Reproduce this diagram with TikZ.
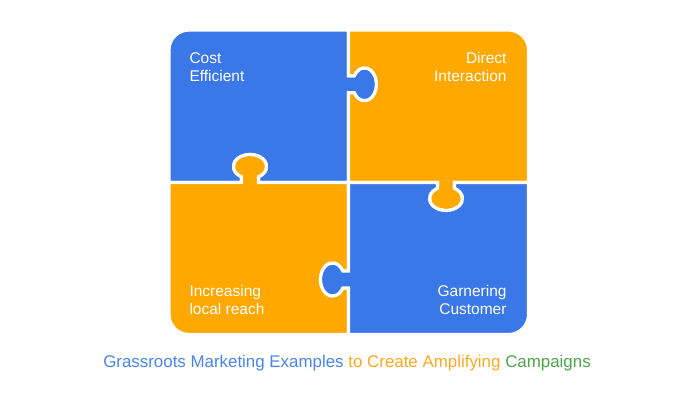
\documentclass[tikz,border=0pt]{standalone}
\usepackage{fontspec}
\setmainfont{Liberation Sans}
\definecolor{pblue}{HTML}{3B78E7}
\definecolor{porange}{HTML}{FFA800}
\definecolor{tblue}{HTML}{4A86E8}
\definecolor{torange}{HTML}{F9A825}
\definecolor{tgreen}{HTML}{4CA64C}
\begin{document}
\begin{tikzpicture}[x=1pt,y=1pt,
  piece/.style={draw=white,line width=3.2pt,line join=miter},
  lbl/.style={text=white,inner sep=0pt,font=\fontsize{15.5}{18.3}\selectfont},
  ttl/.style={inner sep=0pt,font=\fontsize{16.9}{19}\selectfont}]
\useasboundingbox (0,0) rectangle (698,400);
% top-left (blue)
\path[piece,fill=pblue] (169,217.5) -- (169,350) arc[start angle=180,end angle=90,radius=20]
  -- (348.5,370) -- (348.5,324.2) -- (354.21,324.2)
  arc[start angle=149,end angle=-149,x radius=12,y radius=16.5]
  -- (348.5,307.2) -- (348.5,217.5) -- (258.5,217.5) -- (258.5,223.21)
  arc[start angle=-59,end angle=239,x radius=16.5,y radius=12]
  -- (241.5,217.5) -- cycle;
% top-right (orange)
\path[piece,fill=porange] (348.5,370) -- (508.5,370) arc[start angle=90,end angle=0,radius=20]
  -- (528.5,217.5) -- (454.5,217.5) -- (454.5,211.79)
  arc[start angle=59,end angle=-239,x radius=16.5,y radius=12]
  -- (437.5,217.5) -- (348.5,217.5) -- (348.5,307.2) -- (354.21,307.2)
  arc[start angle=-149,end angle=149,x radius=12,y radius=16.5]
  -- (348.5,324.2) -- cycle;
% bottom-left (orange)
\path[piece,fill=porange] (169,217.5) -- (169,85.5) arc[start angle=180,end angle=270,radius=20]
  -- (348.5,65.5) -- (348.5,112) -- (342.79,112)
  arc[start angle=-31,end angle=-329,x radius=12,y radius=16.5]
  -- (348.5,129) -- (348.5,217.5) -- (258.5,217.5) -- (258.5,223.21)
  arc[start angle=-59,end angle=239,x radius=16.5,y radius=12]
  -- (241.5,217.5) -- cycle;
% bottom-right (blue)
\path[piece,fill=pblue] (348.5,217.5) -- (437.5,217.5) -- (437.5,211.79)
  arc[start angle=-239,end angle=59,x radius=16.5,y radius=12]
  -- (454.5,217.5) -- (528.5,217.5) -- (528.5,85.5) arc[start angle=0,end angle=-90,radius=20]
  -- (348.5,65.5) -- (348.5,112) -- (342.79,112)
  arc[start angle=-31,end angle=-329,x radius=12,y radius=16.5]
  -- (348.5,129) -- cycle;
% labels (base anchor = baseline of last line)
\node[lbl,anchor=base west,align=left] (cost) at (189.3,318.3) {Cost\\Efficient};
\node[lbl,anchor=base east,align=right] (direct) at (506.7,318.3) {Direct\\Interaction};
\node[lbl,anchor=base west,align=left] (incr) at (189.3,85.7) {Increasing\\local reach};
\node[lbl,anchor=base east,align=right] (garn) at (506.7,85.7) {Garnering\\Customer};
\node[ttl,anchor=base] (title) at (347,32.7) {\textcolor{tblue}{Grassroots Marketing Examples} \textcolor{torange}{to Create Amplifying} \textcolor{tgreen}{Campaigns}};
\end{tikzpicture}
\end{document}
